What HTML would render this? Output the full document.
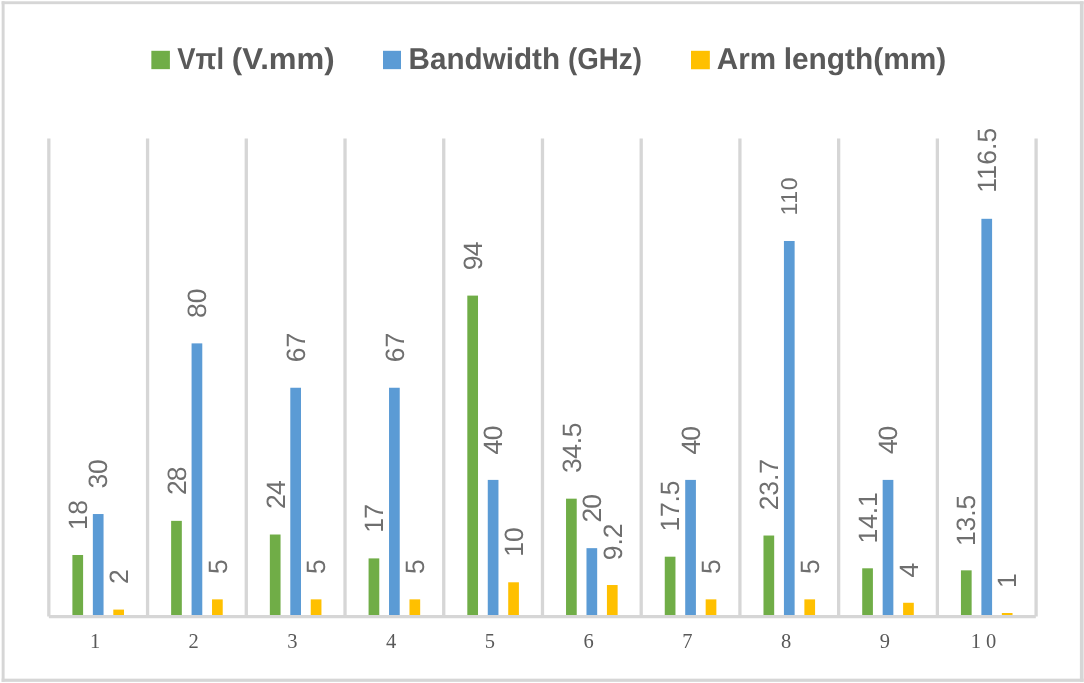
<!DOCTYPE html><html><head><meta charset="utf-8"><style>html,body{margin:0;padding:0;background:#fff;overflow:hidden;width:1084px;height:683px;}svg{display:block;will-change:transform}</style></head><body>
<svg width="1084" height="683" viewBox="0 0 1084 683">
<rect x="0" y="0" width="1084" height="683" fill="#fff"/>
<rect x="1.65" y="1.3" width="2.95" height="680.6" fill="#d6d6d6"/>
<rect x="1079.9" y="1.3" width="3.7" height="680.6" fill="#d6d6d6"/>
<rect x="1.65" y="1.3" width="1081.95" height="2.87" fill="#d6d6d6"/>
<rect x="1.65" y="678.65" width="1081.95" height="3.2" fill="#d6d6d6"/>
<line x1="48.84" y1="138.40" x2="48.84" y2="616.42" stroke="#d6d6d6" stroke-width="3.3"/>
<line x1="147.57" y1="138.40" x2="147.57" y2="616.42" stroke="#d6d6d6" stroke-width="3.3"/>
<line x1="246.29" y1="138.40" x2="246.29" y2="616.42" stroke="#d6d6d6" stroke-width="3.3"/>
<line x1="345.02" y1="138.40" x2="345.02" y2="616.42" stroke="#d6d6d6" stroke-width="3.3"/>
<line x1="443.74" y1="138.40" x2="443.74" y2="616.42" stroke="#d6d6d6" stroke-width="3.3"/>
<line x1="542.47" y1="138.40" x2="542.47" y2="616.42" stroke="#d6d6d6" stroke-width="3.3"/>
<line x1="641.20" y1="138.40" x2="641.20" y2="616.42" stroke="#d6d6d6" stroke-width="3.3"/>
<line x1="739.92" y1="138.40" x2="739.92" y2="616.42" stroke="#d6d6d6" stroke-width="3.3"/>
<line x1="838.65" y1="138.40" x2="838.65" y2="616.42" stroke="#d6d6d6" stroke-width="3.3"/>
<line x1="937.37" y1="138.40" x2="937.37" y2="616.42" stroke="#d6d6d6" stroke-width="3.3"/>
<line x1="1036.10" y1="138.40" x2="1036.10" y2="616.42" stroke="#d6d6d6" stroke-width="3.3"/>
<rect x="72.40" y="554.99" width="10.70" height="61.43" fill="#70ad47"/>
<rect x="92.85" y="514.03" width="10.70" height="102.39" fill="#5b9bd5"/>
<rect x="113.30" y="609.59" width="10.70" height="6.83" fill="#ffc000"/>
<rect x="171.13" y="520.86" width="10.70" height="95.56" fill="#70ad47"/>
<rect x="191.58" y="343.38" width="10.70" height="273.04" fill="#5b9bd5"/>
<rect x="212.03" y="599.36" width="10.70" height="17.06" fill="#ffc000"/>
<rect x="269.85" y="534.51" width="10.70" height="81.91" fill="#70ad47"/>
<rect x="290.30" y="387.75" width="10.70" height="228.67" fill="#5b9bd5"/>
<rect x="310.75" y="599.36" width="10.70" height="17.06" fill="#ffc000"/>
<rect x="368.58" y="558.40" width="10.70" height="58.02" fill="#70ad47"/>
<rect x="389.03" y="387.75" width="10.70" height="228.67" fill="#5b9bd5"/>
<rect x="409.48" y="599.36" width="10.70" height="17.06" fill="#ffc000"/>
<rect x="467.31" y="295.60" width="10.70" height="320.82" fill="#70ad47"/>
<rect x="487.76" y="479.90" width="10.70" height="136.52" fill="#5b9bd5"/>
<rect x="508.21" y="582.29" width="10.70" height="34.13" fill="#ffc000"/>
<rect x="566.03" y="498.67" width="10.70" height="117.75" fill="#70ad47"/>
<rect x="586.48" y="548.16" width="10.70" height="68.26" fill="#5b9bd5"/>
<rect x="606.93" y="585.02" width="10.70" height="31.40" fill="#ffc000"/>
<rect x="664.76" y="556.69" width="10.70" height="59.73" fill="#70ad47"/>
<rect x="685.21" y="479.90" width="10.70" height="136.52" fill="#5b9bd5"/>
<rect x="705.66" y="599.36" width="10.70" height="17.06" fill="#ffc000"/>
<rect x="763.48" y="535.53" width="10.70" height="80.89" fill="#70ad47"/>
<rect x="783.93" y="240.99" width="10.70" height="375.43" fill="#5b9bd5"/>
<rect x="804.38" y="599.36" width="10.70" height="17.06" fill="#ffc000"/>
<rect x="862.21" y="568.30" width="10.70" height="48.12" fill="#70ad47"/>
<rect x="882.66" y="479.90" width="10.70" height="136.52" fill="#5b9bd5"/>
<rect x="903.11" y="602.77" width="10.70" height="13.65" fill="#ffc000"/>
<rect x="960.94" y="570.34" width="10.70" height="46.08" fill="#70ad47"/>
<rect x="981.39" y="218.81" width="10.70" height="397.61" fill="#5b9bd5"/>
<rect x="1001.84" y="613.01" width="10.70" height="3.41" fill="#ffc000"/>
<line x1="48.84" y1="616.65" x2="1035.80" y2="616.65" stroke="#d6d6d6" stroke-width="3.15"/>
<g font-family="Liberation Sans, sans-serif" font-size="26.5" fill="#6f6f6f" text-rendering="geometricPrecision">
<text transform="translate(87.00,529.91) rotate(-90)" letter-spacing="0.33">18</text>
<text transform="translate(107.00,488.40) rotate(-90)" letter-spacing="-0.40">30</text>
<text transform="translate(128.00,584.03) rotate(-90)">2</text>
<text transform="translate(186.00,494.93) rotate(-90)" letter-spacing="-0.94">28</text>
<text transform="translate(206.00,317.92) rotate(-90)" letter-spacing="-0.11">80</text>
<text transform="translate(227.00,573.92) rotate(-90)">5</text>
<text transform="translate(285.00,508.94) rotate(-90)" letter-spacing="-0.73">24</text>
<text transform="translate(305.00,362.13) rotate(-90)" letter-spacing="-0.20">67</text>
<text transform="translate(325.00,573.92) rotate(-90)">5</text>
<text transform="translate(383.00,532.80) rotate(-90)" letter-spacing="-0.58">17</text>
<text transform="translate(404.00,362.13) rotate(-90)" letter-spacing="-0.20">67</text>
<text transform="translate(424.00,573.92) rotate(-90)">5</text>
<text transform="translate(482.00,270.29) rotate(-90)" letter-spacing="-0.62">94</text>
<text transform="translate(502.00,454.38) rotate(-90)" letter-spacing="-0.71">40</text>
<text transform="translate(523.00,556.86) rotate(-90)" letter-spacing="0.11">10</text>
<text transform="translate(581.00,473.06) rotate(-90)" letter-spacing="-0.32">34.5</text>
<text transform="translate(601.00,522.61) rotate(-90)" letter-spacing="-0.97">20</text>
<text transform="translate(622.00,560.29) rotate(-90)">9.2</text>
<text transform="translate(679.00,531.52) rotate(-90)" letter-spacing="-0.22">17.5</text>
<text transform="translate(700.00,454.50) rotate(-90)" letter-spacing="-0.90">40</text>
<text transform="translate(720.00,573.92) rotate(-90)">5</text>
<text transform="translate(778.00,510.35) rotate(-90)" letter-spacing="-0.12">23.7</text>
<text font-size="23.0" transform="translate(797.00,215.56) rotate(-90)" letter-spacing="0.70">110</text>
<text transform="translate(819.00,573.92) rotate(-90)">5</text>
<text transform="translate(877.00,543.42) rotate(-90)" letter-spacing="-0.11">14.1</text>
<text transform="translate(897.00,454.12) rotate(-90)" letter-spacing="-1.11">40</text>
<text transform="translate(918.00,577.61) rotate(-90)">4</text>
<text transform="translate(975.00,546.06) rotate(-90)" letter-spacing="-0.07">13.5</text>
<text transform="translate(996.00,192.66) rotate(-90)" letter-spacing="0.15">116.5</text>
<text transform="translate(1016.00,587.93) rotate(-90)">1</text>
</g>
<g font-family="Liberation Serif, serif" font-size="20.5" fill="#595959" text-anchor="middle">
<text x="95.00" y="648.20" xml:space="preserve">1</text>
<text x="193.73" y="648.20" xml:space="preserve">2</text>
<text x="292.45" y="648.20" xml:space="preserve">3</text>
<text x="391.18" y="648.20" xml:space="preserve">4</text>
<text x="489.91" y="648.20" xml:space="preserve">5</text>
<text x="588.63" y="648.20" xml:space="preserve">6</text>
<text x="687.36" y="648.20" xml:space="preserve">7</text>
<text x="786.08" y="648.20" xml:space="preserve">8</text>
<text x="884.81" y="648.20" xml:space="preserve">9</text>
<text x="983.54" y="648.20" xml:space="preserve">1 0</text>
</g>
<g font-family="Liberation Sans, sans-serif" font-weight="bold" font-size="30.0" fill="#595959" text-rendering="geometricPrecision">
<rect x="151.35" y="50.8" width="18.55" height="18.35" fill="#70ad47"/>
<rect x="383.0" y="50.8" width="18.0" height="18.35" fill="#5b9bd5"/>
<rect x="691.0" y="50.8" width="18.84" height="18.45" fill="#ffc000"/>
<text x="177.36" y="69.3" textLength="46.77" lengthAdjust="spacingAndGlyphs">Vπl</text>
<text x="231.83" y="69.3" textLength="102.91" lengthAdjust="spacingAndGlyphs">(V.mm)</text>
<text x="408.51" y="69.3" textLength="151.53" lengthAdjust="spacingAndGlyphs">Bandwidth</text>
<text x="568.09" y="69.3" textLength="73.84" lengthAdjust="spacingAndGlyphs">(GHz)</text>
<text x="716.77" y="69.3" textLength="59.26" lengthAdjust="spacingAndGlyphs">Arm</text>
<text x="783.67" y="69.3" textLength="162.66" lengthAdjust="spacingAndGlyphs">length(mm)</text>
</g>
</svg></body></html>
